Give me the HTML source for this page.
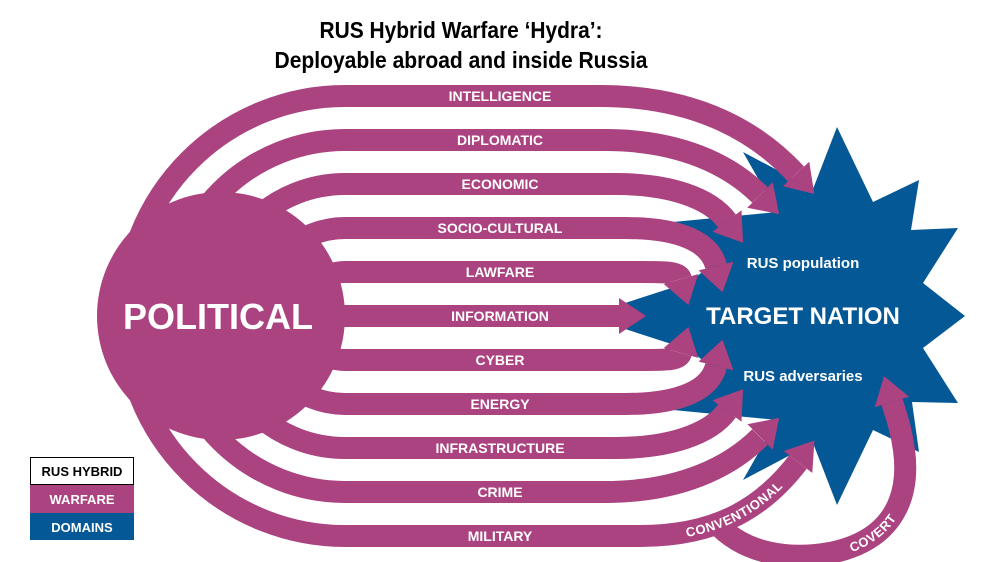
<!DOCTYPE html>
<html><head><meta charset="utf-8"><style>
html,body{margin:0;padding:0;background:#fff;}
svg{display:block;}
text{font-family:"Liberation Sans",sans-serif;font-weight:bold;}
</style></head><body>
<svg width="1000" height="562" viewBox="0 0 1000 562" xmlns="http://www.w3.org/2000/svg">
<defs>
<marker id="ah" markerUnits="userSpaceOnUse" markerWidth="40" markerHeight="40" refX="0" refY="20" orient="auto">
<path d="M0,2 L27,20 L0,38 Z" fill="#ab4380"/>
</marker>
</defs>
<text x="461" y="38" font-size="23" text-anchor="middle" textLength="283" lengthAdjust="spacingAndGlyphs" fill="#000">RUS Hybrid Warfare ‘Hydra’:</text>
<text x="461" y="68" font-size="23" text-anchor="middle" textLength="373" lengthAdjust="spacingAndGlyphs" fill="#000">Deployable abroad and inside Russia</text>

<polygon fill="#045895" points="837,127 873,202 919,180 911,230 958,228 923,283 965,316 923,348 958,403 912,402 919,452 873,430 837,505 813,443 743,480 777,420 673,410 723,377 690,350 585,316 690,282 723,255 673,222 777,212 743,152 813,189"/>

<g fill="none" stroke="#ab4380" stroke-width="22">
<path d="M345,96 A220,220 0 0 0 125,316"/>
<path d="M345,140 A176,176 0 0 0 169,316"/>
<path d="M345,184 A132,132 0 0 0 213,316"/>
<path d="M345,228 A88,88 0 0 0 257,316"/>
<path d="M345,272 A44,44 0 0 0 301,316"/>
<path d="M345,536 A220,220 0 0 1 125,316"/>
<path d="M345,492 A176,176 0 0 1 169,316"/>
<path d="M345,448 A132,132 0 0 1 213,316"/>
<path d="M345,404 A88,88 0 0 1 257,316"/>
<path d="M345,360 A44,44 0 0 1 301,316"/>
<path marker-end="url(#ah)" d="M344,96 L600,96 C700,96 760,135 796,174"/>
<path marker-end="url(#ah)" d="M344,140 L605,140 C680,140 730,165 760,195"/>
<path marker-end="url(#ah)" d="M344,184 L615,184 C670,184 710,198 727,221"/>
<path marker-end="url(#ah)" d="M344,228 L625,228 C680,228 710,242 716,266"/>
<path marker-end="url(#ah)" d="M344,272 L640,272 C668,272 679,272 681,279"/>
<path marker-end="url(#ah)" d="M300,316 L619,316"/>
<path marker-end="url(#ah)" d="M344,360 L640,360 C668,360 679,360 681,353"/>
<path marker-end="url(#ah)" d="M344,404 L625,404 C680,404 710,390 716,366"/>
<path marker-end="url(#ah)" d="M344,448 L615,448 C670,448 710,434 727,411"/>
<path marker-end="url(#ah)" d="M344,492 L605,492 C680,492 730,467 760,437"/>
<path id="conv" marker-end="url(#ah)" d="M344,536 L640,536 C720,536 765,505 798,462"/>
<path id="cov" marker-end="url(#ah)" d="M715,522 C745,555 790,560 830,553 C895,540 910,495 904,450 C901,428 896,415 892,402"/>
</g>

<circle cx="221" cy="316" r="124" fill="#ab4380"/>

<g fill="#fff" font-size="14" text-anchor="middle">
<text x="500" y="101">INTELLIGENCE</text>
<text x="500" y="145">DIPLOMATIC</text>
<text x="500" y="189">ECONOMIC</text>
<text x="500" y="233">SOCIO-CULTURAL</text>
<text x="500" y="277">LAWFARE</text>
<text x="500" y="321">INFORMATION</text>
<text x="500" y="365">CYBER</text>
<text x="500" y="409">ENERGY</text>
<text x="500" y="453">INFRASTRUCTURE</text>
<text x="500" y="497">CRIME</text>
<text x="500" y="541">MILITARY</text>
</g>
<g fill="#fff" font-size="13">
<text dy="5" letter-spacing="0.3"><textPath href="#conv" startOffset="342">CONVENTIONAL</textPath></text>
<text dy="5"><textPath href="#cov" startOffset="145">COVERT</textPath></text>
</g>

<text x="218" y="329" font-size="36" fill="#fff" text-anchor="middle">POLITICAL</text>
<text x="803" y="324" font-size="24" fill="#fff" text-anchor="middle">TARGET NATION</text>
<text x="803" y="268" font-size="15" fill="#fff" text-anchor="middle">RUS population</text>
<text x="803" y="381" font-size="15" fill="#fff" text-anchor="middle">RUS adversaries</text>

<rect x="30.5" y="457.5" width="103" height="27" fill="#fff" stroke="#000" stroke-width="1"/>
<rect x="30" y="485" width="104" height="28" fill="#ab4380"/>
<rect x="30" y="513" width="104" height="27" fill="#045895"/>
<g font-size="13" text-anchor="middle">
<text x="82" y="476" fill="#000">RUS HYBRID</text>
<text x="82" y="504" fill="#fff">WARFARE</text>
<text x="82" y="532" fill="#fff">DOMAINS</text>
</g>
</svg>
</body></html>
